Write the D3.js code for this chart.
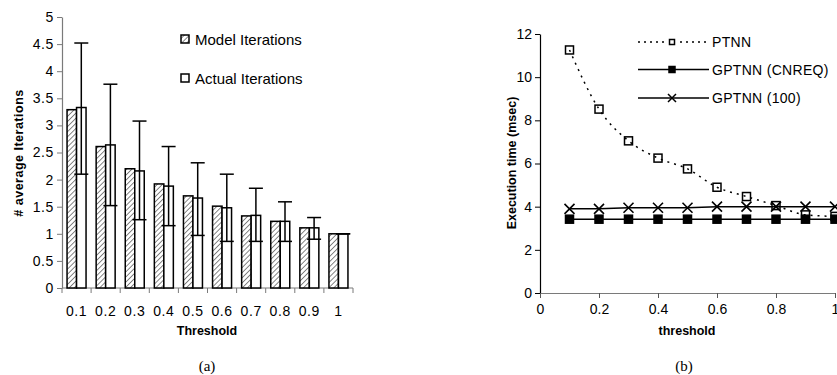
<!DOCTYPE html>
<html>
<head>
<meta charset="utf-8">
<script src="https://cdn.jsdelivr.net/npm/d3@7"></script>
<style>
  body { margin: 0; background: #fff; }
  svg { display: block; }
  text { font-family: "Liberation Sans", Arial, sans-serif; fill: #000; }
</style>
</head>
<body>
<script>
// (a) iterations per threshold
var thresholds = ["0.1", "0.2", "0.3", "0.4", "0.5", "0.6", "0.7", "0.8", "0.9", "1"];
var modelIter = [3.29, 2.61, 2.20, 1.92, 1.70, 1.51, 1.33, 1.23, 1.11, 1.0];
var actualIter = [3.33, 2.64, 2.16, 1.88, 1.66, 1.48, 1.34, 1.23, 1.11, 1.0];
var errLow = [2.10, 1.52, 1.26, 1.15, 0.97, 0.86, 0.86, 0.86, 0.90, 1.0];
var errHigh = [4.52, 3.76, 3.08, 2.61, 2.31, 2.10, 1.84, 1.59, 1.30, 1.0];
var leftTicks = [0, 0.5, 1, 1.5, 2, 2.5, 3, 3.5, 4, 4.5, 5];

// (b) execution time
var thr = [0.1, 0.2, 0.3, 0.4, 0.5, 0.6, 0.7, 0.8, 0.9, 1.0];
var ptnn = [11.26, 8.52, 7.05, 6.25, 5.75, 4.9, 4.47, 4.05, 3.62, 3.55];
var cnreq = [3.42, 3.42, 3.42, 3.42, 3.42, 3.42, 3.42, 3.42, 3.42, 3.42];
var g100 = [3.9, 3.9, 3.95, 3.95, 3.95, 4.0, 4.0, 4.0, 4.0, 4.0];
var rightYTicks = [0, 2, 4, 6, 8, 10, 12];
var rightXTicks = [0, 0.2, 0.4, 0.6, 0.8, 1];

var svg = d3.select("body").append("svg")
  .attr("width", 837)
  .attr("height", 375);

var defs = svg.append("defs");
var pat = defs.append("pattern")
  .attr("id", "hatch")
  .attr("patternUnits", "userSpaceOnUse")
  .attr("width", 3.6).attr("height", 3.6)
  .attr("patternTransform", "rotate(45)");
pat.append("rect").attr("width", 3.6).attr("height", 3.6).attr("fill", "#fff");
pat.append("line")
  .attr("x1", 0).attr("y1", 0).attr("x2", 0).attr("y2", 3.6)
  .attr("stroke", "#444").attr("stroke-width", 1.3);

// ---------- chart (a) ----------
var x = d3.scaleBand().domain(thresholds).range([62, 353]);
var y = d3.scaleLinear().domain([0, 5]).range([288, 17]);
var bw = 9.5;
var gA = svg.append("g");

var axisCol = "#7a7a7a";
var yAx = gA.append("g")
  .attr("transform", "translate(62,0)")
  .call(d3.axisLeft(y).tickValues(leftTicks).tickSize(5).tickSizeOuter(0).tickFormat(d3.format("")));
yAx.select(".domain").attr("stroke", axisCol).attr("stroke-width", 1.2);
yAx.selectAll(".tick line").attr("stroke", axisCol);
yAx.selectAll(".tick text").attr("x", -8).style("font-size", "14px").style("letter-spacing", "0.6px").attr("fill", "#000");

gA.append("line").attr("x1", 62).attr("x2", 353).attr("y1", 288).attr("y2", 288)
  .attr("stroke", axisCol).attr("stroke-width", 1.2);
gA.selectAll(".xtk").data(thresholds.concat(["end"])).enter().append("line")
  .attr("x1", function (d, i) { return 62 + i * x.bandwidth(); })
  .attr("x2", function (d, i) { return 62 + i * x.bandwidth(); })
  .attr("y1", 288).attr("y2", 293)
  .attr("stroke", axisCol);
gA.selectAll(".xlab").data(thresholds).enter().append("text")
  .attr("x", function (d) { return x(d) + x.bandwidth() / 2; })
  .attr("y", 316)
  .attr("text-anchor", "middle")
  .style("font-size", "14px").style("letter-spacing", "0.6px")
  .text(function (d) { return d; });

var mid = function (d) { return x(d) + x.bandwidth() / 2; };

gA.selectAll(".mbar").data(thresholds).enter().append("rect")
  .attr("x", function (d) { return mid(d) - bw; })
  .attr("y", function (d, i) { return y(modelIter[i]); })
  .attr("width", bw)
  .attr("height", function (d, i) { return 288 - y(modelIter[i]); })
  .attr("fill", "url(#hatch)").attr("stroke", "#000").attr("stroke-width", 1.5);

gA.selectAll(".abar").data(thresholds).enter().append("rect")
  .attr("x", function (d) { return mid(d); })
  .attr("y", function (d, i) { return y(actualIter[i]); })
  .attr("width", bw)
  .attr("height", function (d, i) { return 288 - y(actualIter[i]); })
  .attr("fill", "#fff").attr("stroke", "#000").attr("stroke-width", 1.5);

// error bars on actual iterations
var eb = gA.selectAll(".eb").data(thresholds).enter().append("g")
  .attr("stroke", "#000").attr("stroke-width", 1.5);
eb.append("line")
  .attr("x1", function (d) { return mid(d) + bw / 2; })
  .attr("x2", function (d) { return mid(d) + bw / 2; })
  .attr("y1", function (d, i) { return y(errLow[i]); })
  .attr("y2", function (d, i) { return y(errHigh[i]); });
[errLow, errHigh].forEach(function (arr) {
  eb.append("line")
    .attr("x1", function (d) { return mid(d) + bw / 2 - 7; })
    .attr("x2", function (d) { return mid(d) + bw / 2 + 7; })
    .attr("y1", function (d, i) { return y(arr[i]); })
    .attr("y2", function (d, i) { return y(arr[i]); });
});

// legend (a)
var legA = [{ name: "Model Iterations", fill: "url(#hatch)", y: 39 }, { name: "Actual Iterations", fill: "#fff", y: 78 }];
legA.forEach(function (l) {
  gA.append("rect").attr("x", 181).attr("y", l.y - 4).attr("width", 8).attr("height", 8)
    .attr("fill", l.fill).attr("stroke", "#000").attr("stroke-width", 1.5);
  gA.append("text").attr("x", 195).attr("y", l.y + 5.5)
    .style("font-size", "15px").text(l.name);
});

gA.append("text")
  .attr("transform", "translate(23,153) rotate(-90)")
  .attr("text-anchor", "middle")
  .style("font-size", "12.5px").style("font-weight", "bold").style("letter-spacing", "0.5px")
  .text("# average  Iterations");
gA.append("text").attr("x", 207).attr("y", 335)
  .attr("text-anchor", "middle")
  .style("font-size", "12.5px").style("font-weight", "bold")
  .text("Threshold");
gA.append("text").attr("x", 207).attr("y", 371)
  .attr("text-anchor", "middle")
  .style("font-family", "'Liberation Serif', 'Times New Roman', serif").style("font-size", "15px")
  .text("(a)");

// ---------- chart (b) ----------
var x2 = d3.scaleLinear().domain([0, 1]).range([540, 835]);
var y2 = d3.scaleLinear().domain([0, 12]).range([293, 34]);
var gB = svg.append("g");

var yAx2 = gB.append("g")
  .attr("transform", "translate(540,0)")
  .call(d3.axisLeft(y2).tickValues(rightYTicks).tickSize(5).tickSizeOuter(0));
yAx2.select(".domain").attr("stroke", "#000").attr("stroke-width", 1.2);
yAx2.selectAll(".tick text").attr("x", -8).style("font-size", "14px");

var xAx2 = gB.append("g")
  .attr("transform", "translate(0,293)")
  .call(d3.axisBottom(x2).tickValues(rightXTicks).tickSize(5).tickSizeOuter(0).tickFormat(d3.format("")));
xAx2.select(".domain").attr("stroke", "#7a7a7a").attr("stroke-width", 1.2);
xAx2.selectAll(".tick line").attr("stroke", "#555");
xAx2.selectAll(".tick text").attr("y", 11).style("font-size", "14px");

var line = function (vals, curve) {
  return d3.line()
    .x(function (d, i) { return x2(thr[i]); })
    .y(function (d) { return y2(d); })
    .curve(curve)(vals);
};

gB.append("path").attr("d", line(g100, d3.curveLinear))
  .attr("fill", "none").attr("stroke", "#000").attr("stroke-width", 1.5);
gB.append("path").attr("d", line(cnreq, d3.curveLinear))
  .attr("fill", "none").attr("stroke", "#000").attr("stroke-width", 1.5);
gB.append("path").attr("d", line(ptnn, d3.curveMonotoneX))
  .attr("fill", "none").attr("stroke", "#000").attr("stroke-width", 1.5)
  .attr("stroke-dasharray", "2,5");

function xMark(g, cx, cy) {
  g.append("path")
    .attr("d", "M" + (cx - 5) + "," + (cy - 5) + "L" + (cx + 5) + "," + (cy + 5) +
      "M" + (cx + 5) + "," + (cy - 5) + "L" + (cx - 5) + "," + (cy + 5))
    .attr("stroke", "#000").attr("stroke-width", 1.6).attr("fill", "none");
}
function sqMark(g, cx, cy, s, filled) {
  g.append("rect").attr("x", cx - s / 2).attr("y", cy - s / 2).attr("width", s).attr("height", s)
    .attr("fill", filled ? "#000" : "none").attr("stroke", "#000").attr("stroke-width", 1.5);
}

thr.forEach(function (t, i) { sqMark(gB, x2(t), y2(cnreq[i]), 8, true); });
thr.forEach(function (t, i) { xMark(gB, x2(t), y2(g100[i])); });
thr.forEach(function (t, i) { sqMark(gB, x2(t), y2(ptnn[i]), 8, false); });

// legend (b)
var legB = [
  { name: "PTNN", y: 42, dash: "2,4", mark: "open" },
  { name: "GPTNN (CNREQ)", y: 69.5, dash: null, mark: "fill" },
  { name: "GPTNN (100)", y: 98, dash: null, mark: "x" }
];
legB.forEach(function (l) {
  gB.append("line").attr("x1", 638).attr("x2", 709).attr("y1", l.y).attr("y2", l.y)
    .attr("stroke", "#000").attr("stroke-width", 1.5)
    .attr("stroke-dasharray", l.dash);
  if (l.mark === "open") {
    gB.append("rect").attr("x", 668).attr("y", l.y - 4).attr("width", 8).attr("height", 8).attr("fill", "#fff");
    sqMark(gB, 672, l.y, 5, false);
  } else if (l.mark === "fill") sqMark(gB, 672, l.y, 6, true);
  else {
    gB.append("path")
      .attr("d", "M668," + (l.y - 4) + "L676," + (l.y + 4) + "M676," + (l.y - 4) + "L668," + (l.y + 4))
      .attr("stroke", "#000").attr("stroke-width", 1.5);
  }
  gB.append("text").attr("x", 712).attr("y", l.y + 5)
    .style("font-size", "14px").style("letter-spacing", "0.3px").text(l.name);
});

gB.append("text")
  .attr("transform", "translate(516,163) rotate(-90)")
  .attr("text-anchor", "middle")
  .style("font-size", "12.5px").style("font-weight", "bold")
  .text("Execution time (msec)");
gB.append("text").attr("x", 687).attr("y", 335)
  .attr("text-anchor", "middle")
  .style("font-size", "12.5px").style("font-weight", "bold")
  .text("threshold");
gB.append("text").attr("x", 684).attr("y", 371)
  .attr("text-anchor", "middle")
  .style("font-family", "'Liberation Serif', 'Times New Roman', serif").style("font-size", "15px")
  .text("(b)");
</script>
</body>
</html>
